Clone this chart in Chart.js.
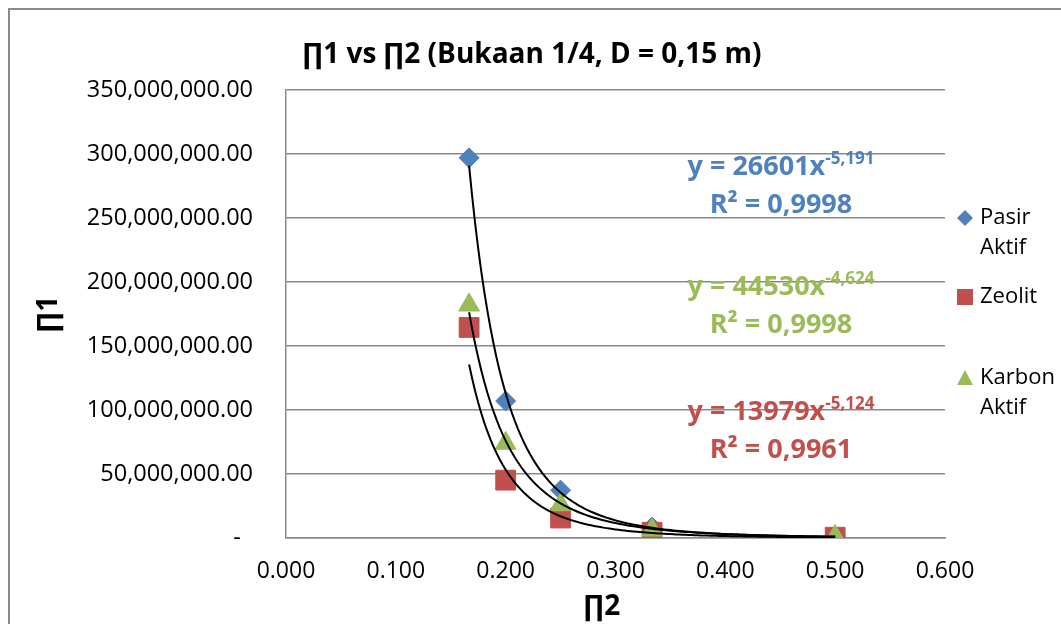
<!DOCTYPE html>
<html>
<head>
<meta charset="utf-8">
<script src="https://cdn.jsdelivr.net/npm/chart.js@4/dist/chart.umd.min.js"></script>
<style>
  html, body { margin: 0; padding: 0; background: #fff; overflow: hidden; }
  #wrap { position: relative; width: 1061px; height: 624px; }
</style>
</head>
<body>
<div id="wrap"><canvas id="c" width="1061" height="624"></canvas></div>
<script>
// ---- data ----
const seriesNames = ['Pasir Aktif', 'Zeolit', 'Karbon Aktif'];
const seriesColors = ['#4F81BD', '#C0504D', '#9BBB59'];
const pi2Values = [0.1667, 0.2, 0.25, 0.3333, 0.5];
const pasirAktif = [297e6, 107e6, 37.4e6, 8.5e6, 1.0e6];
const zeolit = [164.5e6, 45.2e6, 15.6e6, 4.5e6, 0.6e6];
const karbonAktif = [182e6, 74e6, 26e6, 6.2e6, 1.2e6];

// power trend lines  y = a * x^b  (as printed on the chart)
const trendCoef = [26601, 13979, 44530];
const trendExp = [-5.191, -5.124, -4.624];
const trendCoefText = ['26601', '13979', '44530'];
const trendExpText = ['-5,191', '-5,124', '-4,624'];
const trendR2Text = ['0,9998', '0,9961', '0,9998'];

const titleText = '\u220F1 vs \u220F2 (Bukaan 1/4, D = 0,15 m)';
const yTitle = '\u220F1';
const xTitle = '\u220F2';

const FONT = '"Open Sans", "DejaVu Sans", sans-serif';

function toPoints(xs, ys) { return xs.map((x, i) => ({ x: x, y: ys[i] })); }

function trendPoints(k) {
  const x0 = pi2Values[0], x1 = pi2Values[pi2Values.length - 1];
  const pts = [];
  const n = 120;
  for (let i = 0; i <= n; i++) {
    const x = x0 + (x1 - x0) * i / n;
    pts.push({ x: x, y: trendCoef[k] * Math.pow(x, trendExp[k]) });
  }
  return pts;
}

function fmtY(v) {
  if (v === 0) return '-  ';
  return v.toLocaleString('en-US', { minimumFractionDigits: 2, maximumFractionDigits: 2 });
}

// ---- decorations: frame, title, axis titles, legend, equations ----
const decor = {
  id: 'decor',
  beforeDraw(chart) {
    const ctx = chart.ctx;
    ctx.save();
    ctx.fillStyle = '#fff';
    ctx.fillRect(0, 0, chart.width, chart.height);
    ctx.strokeStyle = '#8a8a8a';
    ctx.lineWidth = 2;
    ctx.strokeRect(9, 9, 1200, 800);
    ctx.restore();
  },
  afterDraw(chart) {
    const ctx = chart.ctx;
    ctx.save();
    ctx.fillStyle = '#000';
    ctx.textBaseline = 'middle';

    // chart title
    ctx.textAlign = 'center';
    ctx.font = 'bold 28px ' + FONT;
    ctx.fillText(titleText, 532, 55);

    // axis titles
    ctx.font = 'bold 28px ' + FONT;
    ctx.fillText(xTitle, 602, 607);
    ctx.save();
    ctx.translate(49, 314);
    ctx.rotate(-Math.PI / 2);
    ctx.fillText(yTitle, 0, 0);
    ctx.restore();

    // legend
    const lx = 965, tx = 980;
    ctx.textAlign = 'left';
    ctx.font = '22px ' + FONT;
    const legendRows = [
      { my: 218, lines: ['Pasir', 'Aktif'] },
      { my: 297, lines: ['Zeolit'] },
      { my: 378, lines: ['Karbon', 'Aktif'] }
    ];
    legendRows.forEach((row, k) => {
      ctx.fillStyle = seriesColors[k];
      ctx.beginPath();
      if (k === 0) {
        ctx.moveTo(lx, row.my - 8); ctx.lineTo(lx + 8, row.my);
        ctx.lineTo(lx, row.my + 8); ctx.lineTo(lx - 8, row.my);
      } else if (k === 1) {
        ctx.rect(lx - 8, row.my - 8, 16, 16);
      } else {
        ctx.moveTo(lx, row.my - 8); ctx.lineTo(lx + 8, row.my + 7);
        ctx.lineTo(lx - 8, row.my + 7);
      }
      ctx.closePath();
      ctx.fill();
      ctx.fillStyle = '#000';
      row.lines.forEach((t, j) => ctx.fillText(t, tx, row.my + j * 30));
    });

    // trend equations
    const eqs = [
      { k: 0, b1: 175, b2: 213 },
      { k: 2, b1: 295, b2: 333 },
      { k: 1, b1: 420, b2: 458 }
    ];
    const cx = 781;
    ctx.textBaseline = 'alphabetic';
    eqs.forEach(e => {
      ctx.fillStyle = seriesColors[e.k];
      const main = 'y = ' + trendCoefText[e.k] + 'x';
      const sup = trendExpText[e.k];
      ctx.font = 'bold 27px ' + FONT;
      const wm = ctx.measureText(main).width;
      ctx.font = 'bold 17px ' + FONT;
      const ws = ctx.measureText(sup).width;
      const x0 = cx - (wm + ws) / 2;
      ctx.textAlign = 'left';
      ctx.font = 'bold 27px ' + FONT;
      ctx.fillText(main, x0, e.b1);
      ctx.font = 'bold 17px ' + FONT;
      ctx.fillText(sup, x0 + wm, e.b1 - 11);
      ctx.textAlign = 'center';
      ctx.font = 'bold 27px ' + FONT;
      ctx.fillText('R\u00B2 = ' + trendR2Text[e.k], cx, e.b2);
    });
    ctx.restore();
  }
};

const markerDefs = [
  { style: 'rectRot', r: 10, order: 3 },
  { style: 'rect', r: 14, order: 2 },
  { style: 'triangle', r: 12, order: 1 }
];
const seriesValues = [pasirAktif, zeolit, karbonAktif];

const datasets = [];
seriesValues.forEach((vals, k) => {
  datasets.push({
    label: seriesNames[k],
    data: toPoints(pi2Values, vals),
    pointStyle: markerDefs[k].style,
    pointRadius: markerDefs[k].r,
    pointBackgroundColor: seriesColors[k],
    pointBorderColor: seriesColors[k],
    pointBorderWidth: 1,
    showLine: false,
    order: markerDefs[k].order
  });
});
[0, 1, 2].forEach(k => {
  datasets.push({
    label: 'trend ' + seriesNames[k],
    data: trendPoints(k),
    showLine: true,
    borderColor: '#000',
    borderWidth: 2,
    pointRadius: 0,
    tension: 0,
    order: 0
  });
});

new Chart(document.getElementById('c'), {
  type: 'scatter',
  data: { datasets: datasets },
  options: {
    responsive: false,
    animation: false,
    events: [],
    layout: { padding: { left: 0, right: 116, top: 90, bottom: 0 } },
    plugins: { legend: { display: false }, tooltip: { enabled: false }, title: { display: false } },
    scales: {
      x: {
        type: 'linear', min: 0, max: 0.6,
        afterFit(s) { s.height = 86; },
        ticks: {
          stepSize: 0.1, padding: 20, color: '#000',
          font: { family: FONT, size: 23 },
          callback: v => Number(v).toFixed(3)
        },
        grid: { display: false, drawTicks: false },
        border: { display: true, color: '#8a8a8a', width: 1.5 }
      },
      y: {
        type: 'linear', min: 0, max: 350e6,
        afterFit(s) { s.width = 286; },
        ticks: {
          stepSize: 50e6, padding: 33, color: '#000',
          font: { family: FONT, size: 23.5 },
          callback: v => fmtY(v)
        },
        grid: { color: '#8a8a8a', lineWidth: 1.5, drawTicks: false },
        border: { display: true, color: '#8a8a8a', width: 1.5 }
      }
    }
  },
  plugins: [decor]
});
</script>
</body>
</html>
